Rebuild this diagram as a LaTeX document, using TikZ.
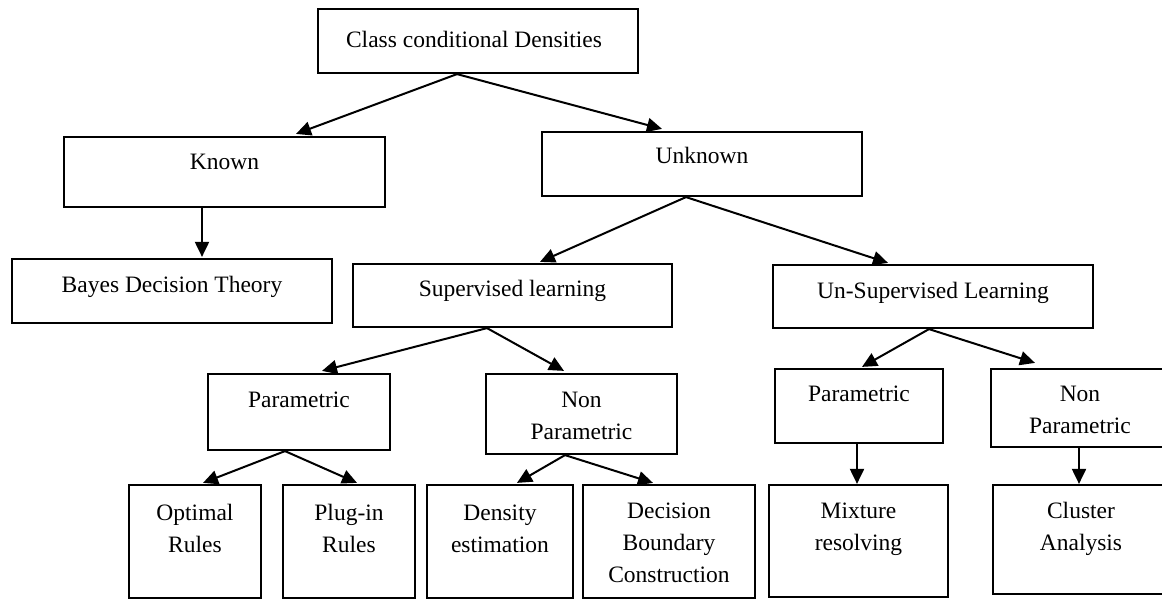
\documentclass[tikz,border=0pt]{standalone}
\usepackage{fontspec}
\setmainfont{Liberation Serif}
\usetikzlibrary{arrows.meta}
\newcommand\mybox[5]{\node[box, minimum width={#4-#2}, minimum height={#5-#3}] (#1) at ({(#2+#4)/2},{(#3+#5)/2}) {};}
\begin{document}
\begin{tikzpicture}[x=1pt,y=-1pt,
  box/.style={draw, line width=2.2pt, inner sep=0pt, rectangle},
  lbl/.style={anchor=base, align=center, inner sep=0pt, font=\fontsize{23.5}{32}\selectfont},
  arr/.style={line width=2pt, -{Triangle[length=15pt,width=14pt]}}]
\useasboundingbox (0,0) rectangle (1162,599);
\clip (0,0) rectangle (1162,599);
% boxes
\mybox{class}{318}{9}{638}{73}
\mybox{known}{64}{137}{385}{207}
\mybox{unknown}{542}{132}{862}{196}
\mybox{bayes}{12}{259}{332}{323}
\mybox{sup}{353}{264}{672}{327}
\mybox{unsup}{773}{265}{1093}{328}
\mybox{paramL}{208}{374}{390}{450}
\mybox{nonparL}{486}{374}{677}{454}
\mybox{paramR}{775}{369}{943}{443}
\mybox{nonparR}{991}{369}{1180}{447}
\mybox{optimal}{129}{485}{261}{598}
\mybox{plugin}{283}{485}{415}{598}
\mybox{density}{427}{485}{573}{598}
\mybox{decision}{583}{485}{755}{598}
\mybox{mixture}{769}{485}{948}{597}
\mybox{cluster}{993}{485}{1180}{594}
% labels (anchor base = baseline of the last line)
\node[lbl] (t-class) at (474,48) {Class conditional Densities};
\node[lbl] (t-known) at (224.5,169) {Known};
\node[lbl] (t-unknown) at (702,164) {Unknown};
\node[lbl] (t-bayes) at (172,292) {Bayes Decision Theory};
\node[lbl] (t-sup) at (512.5,296) {Supervised learning};
\node[lbl] (t-unsup) at (933,298) {Un-Supervised Learning};
\node[lbl] (t-paramL) at (299,407) {Parametric};
\node[lbl] (t-nonparL) at (581.5,439) {Non\\Parametric};
\node[lbl] (t-paramR) at (859,401) {Parametric};
\node[lbl] (t-nonparR) at (1080,433) {Non\\Parametric};
\node[lbl] (t-optimal) at (195,552) {Optimal\\Rules};
\node[lbl] (t-plugin) at (349,552) {Plug-in\\Rules};
\node[lbl] (t-density) at (500,552) {Density\\estimation};
\node[lbl] (t-decision) at (669,582) {Decision\\Boundary\\Construction};
\node[lbl] (t-mixture) at (858.5,550) {Mixture\\resolving};
\node[lbl] (t-cluster) at (1081,550) {Cluster\\Analysis};
% connectors
\draw[arr] ([xshift=-21pt]class.south) -- ([xshift=71.5pt,yshift=2pt]known.north);
\draw[arr] ([xshift=-21pt]class.south) -- ([xshift=-40pt,yshift=2pt]unknown.north);
\draw[arr] ([xshift=-22.5pt]known.south) -- ([xshift=30pt,yshift=1pt]bayes.north);
\draw[arr] ([xshift=-16pt]unknown.south) -- ([xshift=27.5pt,yshift=1pt]sup.north);
\draw[arr] ([xshift=-16pt]unknown.south) -- ([xshift=-45pt,yshift=1pt]unsup.north);
\draw[arr] ([xshift=-25.5pt]sup.south) -- ([xshift=23pt,yshift=2pt]paramL.north);
\draw[arr] ([xshift=-25.5pt]sup.south) -- ([xshift=-17.5pt,yshift=2pt]nonparL.north);
\draw[arr] ([xshift=-4pt]unsup.south) -- ([xshift=3pt,yshift=1pt]paramR.north);
\draw[arr] ([xshift=-4pt]unsup.south) -- ([xshift=-50.5pt,yshift=5pt]nonparR.north);
\draw[arr] ([xshift=-14pt]paramL.south) -- ([xshift=8pt,yshift=1pt]optimal.north);
\draw[arr] ([xshift=-14pt]paramL.south) -- ([xshift=8pt,yshift=1pt]plugin.north);
\draw[arr] ([xshift=-16.5pt]nonparL.south) -- ([xshift=17pt,yshift=1pt]density.north);
\draw[arr] ([xshift=-16.5pt]nonparL.south) -- ([xshift=-16pt,yshift=1pt]decision.north);
\draw[arr] ([xshift=-2pt]paramR.south) -- ([xshift=-1.5pt]mixture.north);
\draw[arr] ([xshift=-6.5pt]nonparR.south) -- ([xshift=-7.5pt]cluster.north);
\end{tikzpicture}
\end{document}
